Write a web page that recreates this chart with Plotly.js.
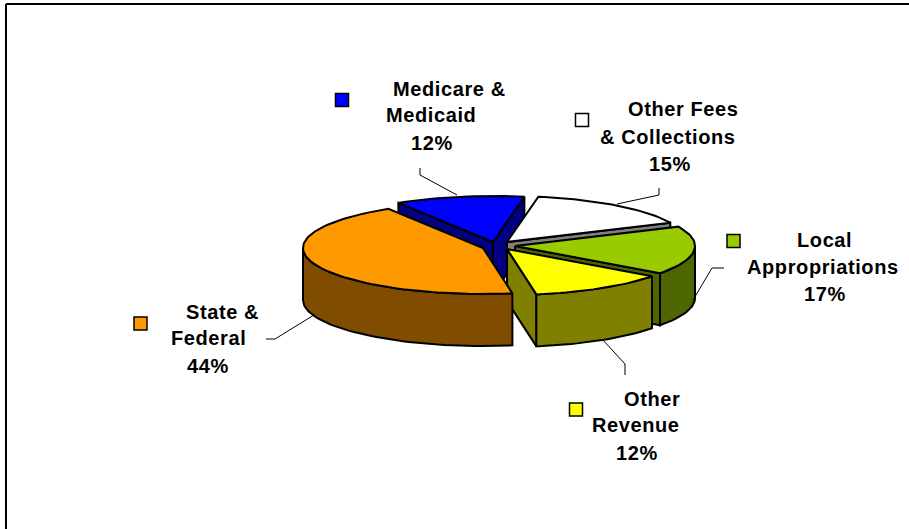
<!DOCTYPE html>
<html><head><meta charset="utf-8">
<script src="https://cdn.plot.ly/plotly-3.0.1.min.js"></script>
<style>html,body{margin:0;padding:0;background:#fff}#c{width:909px;height:529px}.annotation-text{letter-spacing:.6px}</style>
</head><body><div id="c"></div>
<script>
// Data
const categories = ["State & Federal","Medicare & Medicaid","Other Fees & Collections","Local Appropriations","Other Revenue"];
const values = [43.8, 11.6, 15.3, 17.0, 12.3];
const percentLabels = ["44%","12%","15%","17%","12%"];
const nameLines = [["State &","Federal"],["Medicare &","Medicaid"],["Other Fees","& Collections"],["Local","Appropriations"],["Other","Revenue"]];
const topColors = ["#ff9900","#0000ff","#ffffff","#99cc00","#ffff00"];
const sideColors = ["#804d00","#000080","#808080","#4d6600","#808000"];
// Layout constants (pixels on the chart's own axes)
const centersX = [483,493,507,515,507];
const centersY = [248,242,242,246,249];
const drawOrder = [1,2,3,4,0];
const labelX = [[222.5,208,208],[449,431,432],[683,668,670],[824.5,822.5,824.5],[652,636,637]];
const labelY = [[312,338,366],[89,115,143],[109,137,164],[240,267,294],[399,425,453]];
const keyX = [140.5,342,582,733.5,576];
const keyY = [323.5,100,120,241,409.5];
const leaders = [
 [[266,275,314],[339,339,315]],
 [[420,420,457],[168,175,195]],
 [[659,659,617],[188,195,204]],
 [[724,712,693],[268,268,300]],
 [[602,625,625],[339,364,375]]
];
const RX=180, RY=46, DEPTH=52, START=80.6;

// Geometry derived from values
const total = values.reduce((a,b)=>a+b,0);
let a = START; const spans = values.map(v=>{const s=[a,a+v/total*360]; a=s[1]; return s;});
const pt=(i,deg,dz=0)=>{const r=deg*Math.PI/180;return [centersX[i]+RX*Math.cos(r),centersY[i]+RY*Math.sin(r)+dz];};
function arc(i,a0,a1,dz){const n=Math.max(2,Math.ceil(Math.abs(a1-a0)/2));const o=[];for(let k=0;k<=n;k++)o.push(pt(i,a0+(a1-a0)*k/n,dz));return o;}
function poly(points,fill,name){return {type:'scatter',mode:'lines',x:points.map(p=>p[0]),y:points.map(p=>p[1]),fill:'toself',fillcolor:fill,line:{color:'#000',width:2},hoverinfo:'text',text:name,showlegend:false};}
const traces=[];
drawOrder.forEach(i=>{
  const [s,e]=spans[i]; const c=[centersX[i],centersY[i]]; const name=categories[i];
  const sn=pt(i,s), en=pt(i,e);
  const side=(p)=>[c,p,[p[0],p[1]+DEPTH],[c[0],c[1]+DEPTH],c];
  // radial faces are visible when their outward normal points down the screen
  const dS=[sn[0]-c[0],sn[1]-c[1]], dE=[en[0]-c[0],en[1]-c[1]];
  const nS=[dS[1],-dS[0]], nE=[-dE[1],dE[0]];
  if(nS[1]>0) traces.push(poly(side(sn),sideColors[i],name));
  if(nE[1]>0) traces.push(poly(side(en),sideColors[i],name));
  // outer wall: the part of the arc within 0..180 degrees
  for(const off of [0,360]){
    const w0=Math.max(s,off), w1=Math.min(e,off+180);
    if(w1>w0) traces.push(poly(arc(i,w0,w1,0).concat(arc(i,w1,w0,DEPTH)).concat([pt(i,w0)]),sideColors[i],name));
  }
  traces.push(poly([c].concat(arc(i,s,e,0)).concat([c]),topColors[i],name));
});
leaders.forEach(l=>traces.push({type:'scatter',mode:'lines',x:l[0],y:l[1],line:{color:'#000',width:1},hoverinfo:'skip',showlegend:false}));
traces.push({type:'scatter',mode:'markers',x:keyX,y:keyY,text:categories,hoverinfo:'text',showlegend:false,
  marker:{symbol:'square',size:13,color:topColors,line:{color:'#000',width:1.5}}});
const annotations=[];
categories.forEach((_,i)=>{
  const lines=nameLines[i].concat([percentLabels[i]]);
  lines.forEach((t,j)=>annotations.push({x:labelX[i][j],y:labelY[i][j],text:'<b>'+t.replace('&','&amp;')+'</b>',showarrow:false,xanchor:'center',yanchor:'middle',
    font:{family:'"Liberation Sans",Arial,sans-serif',size:20,color:'#000'}}));
});
const layout={width:909,height:529,margin:{l:0,r:0,t:0,b:0},paper_bgcolor:'#fff',plot_bgcolor:'#fff',showlegend:false,
  xaxis:{range:[0,909],visible:false,fixedrange:true},
  yaxis:{range:[529,0],visible:false,fixedrange:true},
  annotations,
  shapes:[
   {type:'line',x0:6,x1:6,y0:4,y1:529,line:{color:'#000',width:2}},
   {type:'line',x0:6,x1:909,y0:4,y1:4,line:{color:'#000',width:2}}
  ]};
Plotly.newPlot('c',traces,layout,{displayModeBar:false,staticPlot:true});
</script></body></html>
